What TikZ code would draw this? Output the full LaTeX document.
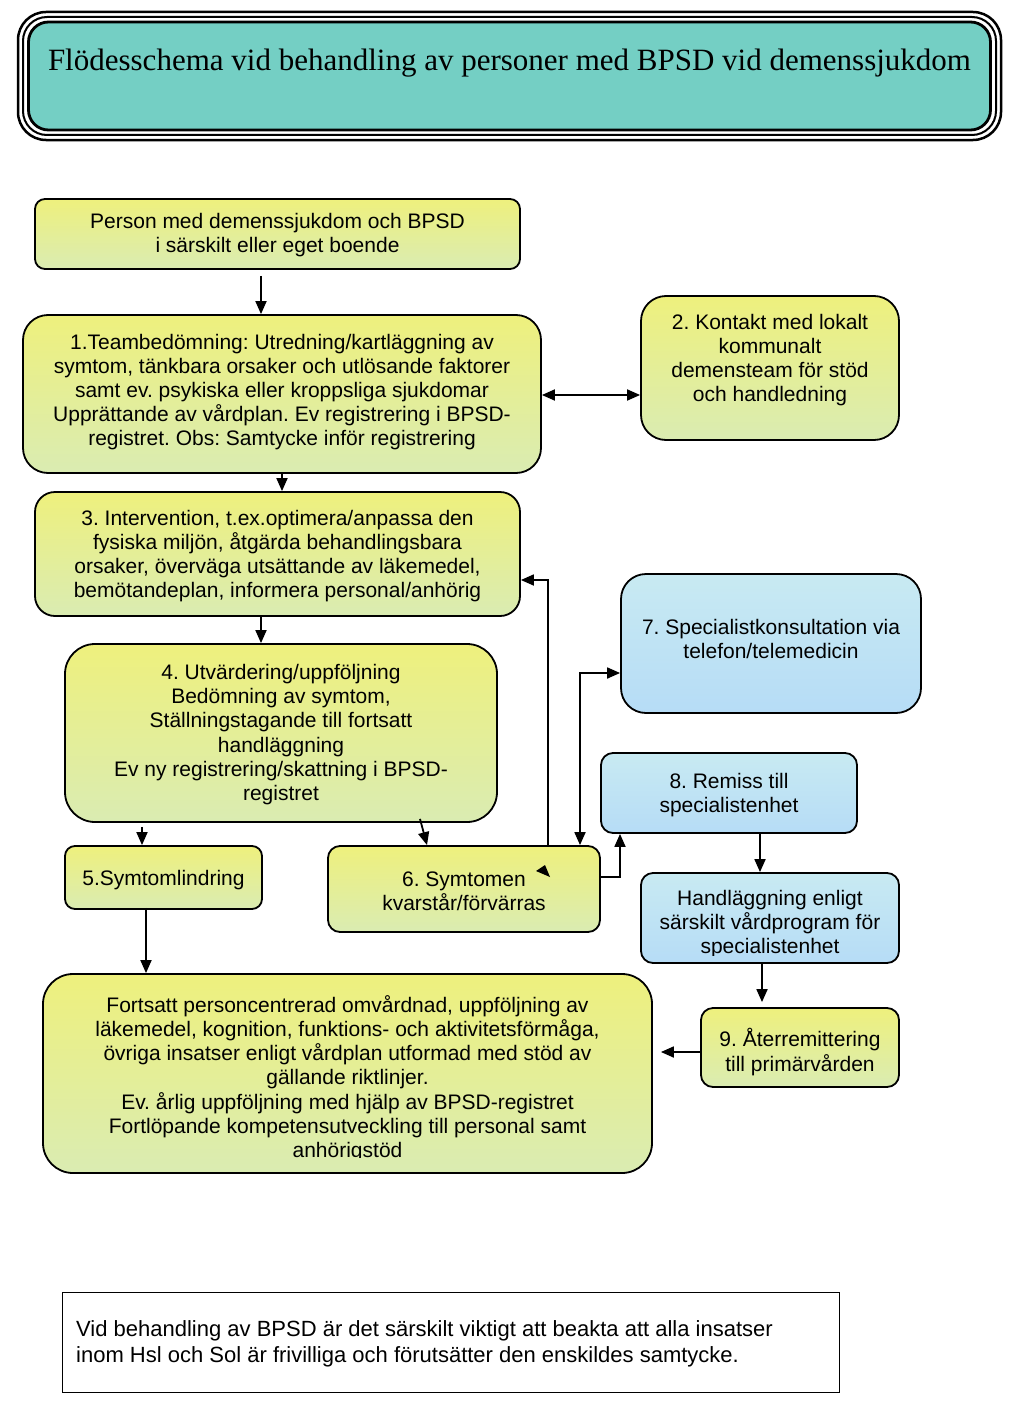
\documentclass[tikz,border=0pt]{standalone}
\usepackage{fontspec}
\setmainfont{Liberation Sans}
\newfontfamily\titlefont{Liberation Serif}
\usetikzlibrary{arrows.meta}
\definecolor{ytop}{RGB}{238,240,125}
\definecolor{ybot}{RGB}{218,236,178}
\definecolor{btop}{RGB}{200,234,242}
\definecolor{bbot}{RGB}{182,220,246}
\definecolor{teal}{RGB}{116,207,196}
\frenchspacing
\begin{document}
\begin{tikzpicture}[x=1pt,y=-1pt,
  ybox/.style={draw=black,line width=1.8pt,top color=ytop,bottom color=ybot,inner sep=0pt},
  bbox/.style={draw=black,line width=1.8pt,top color=btop,bottom color=bbot,inner sep=0pt},
  txt/.style={align=center,font=\fontsize{21}{24.2}\selectfont,inner sep=0pt},
  arr/.style={line width=1.8pt,-{Triangle[length=13pt,width=11pt]}},
  arrb/.style={line width=1.8pt,{Triangle[length=13pt,width=11pt]}-{Triangle[length=13pt,width=11pt]}},
]
\useasboundingbox (0,0) rectangle (1024,1410);
\fill[white] (0,0) rectangle (1024,1410);

% title
\draw[line width=2.5pt,rounded corners=28] (18,12) rectangle (1001,140);
\draw[line width=2pt,rounded corners=24] (23,17) rectangle (996,135);
\node[draw=black,line width=2.8pt,fill=teal,rounded corners=20,minimum width=962,minimum height=108,inner sep=0pt] (title) at (509.5,76) {};
\node[font=\titlefont\fontsize{31}{36}\selectfont,inner sep=0pt] (ttext) at (509.5,63) {Flödesschema vid behandling av personer med BPSD vid demenssjukdom};

% boxes
\node[ybox,rounded corners=10,minimum width=485,minimum height=70] (b0) at (277.5,234) {};
\node[txt] (t0) at (277.5,235) {Person med demenssjukdom och BPSD\\i särskilt eller eget boende};

\node[ybox,rounded corners=25,minimum width=518,minimum height=158] (b1) at (282,394) {};
\node[txt] (t1) at (282,392) {1.Teambedömning: Utredning/kartläggning av\\symtom, tänkbara orsaker och utlösande faktorer\\samt ev. psykiska eller kroppsliga sjukdomar\\Upprättande av vårdplan. Ev registrering i BPSD-\\registret. Obs: Samtycke inför registrering};

\node[ybox,rounded corners=25,minimum width=258,minimum height=144] (b2) at (770,368) {};
\node[txt] (t2) at (770,360) {2. Kontakt med lokalt\\kommunalt\\demensteam för stöd\\och handledning};

\node[ybox,rounded corners=20,minimum width=485,minimum height=124] (b3) at (277.5,554) {};
\node[txt] (t3) at (277.5,556) {3. Intervention, t.ex.optimera/anpassa den\\fysiska miljön, åtgärda behandlingsbara\\orsaker, överväga utsättande av läkemedel,\\bemötandeplan, informera personal/anhörig};

\node[ybox,rounded corners=30,minimum width=432,minimum height=178] (b4) at (281,733) {};
\node[txt] (t4) at (281,734.5) {4. Utvärdering/uppföljning\\Bedömning av symtom,\\Ställningstagande till fortsatt\\handläggning\\Ev ny registrering/skattning i BPSD-\\registret};

\node[ybox,rounded corners=10,minimum width=197,minimum height=63] (b5) at (163.5,877.5) {};
\node[txt] (t5) at (163.5,880) {5.Symtomlindring};

\node[ybox,rounded corners=12,minimum width=272,minimum height=86] (b6) at (464,889) {};
\node[txt] (t6) at (464,891) {6. Symtomen\\kvarstår/förvärras};

\node[bbox,rounded corners=25,minimum width=300,minimum height=139] (b7) at (771,643.5) {};
\node[txt] (t7) at (771,639) {7. Specialistkonsultation via\\telefon/telemedicin};

\node[bbox,rounded corners=12,minimum width=256,minimum height=80] (b8) at (729,793) {};
\node[txt] (t8) at (729,795) {8. Remiss till\\specialistenhet};

\node[bbox,rounded corners=12,minimum width=258,minimum height=90] (bh) at (770,918) {};
\begin{scope}
\clip (645,877) rectangle (895,955.5);
\node[txt] (th) at (770,924) {Handläggning enligt\\särskilt vårdprogram för\\specialistenhet};
\end{scope}

\node[ybox,rounded corners=12,minimum width=198,minimum height=79] (b9) at (800,1047.5) {};
\node[txt] (t9) at (800,1052) {9. Återremittering\\till primärvården};

\node[ybox,rounded corners=30,minimum width=609,minimum height=199] (b10) at (347.5,1073.5) {};
\begin{scope}
\clip (60,980) rectangle (640,1157.5);
\node[txt] (t10) at (347.5,1078.5) {Fortsatt personcentrerad omvårdnad, uppföljning av\\läkemedel, kognition, funktions- och aktivitetsförmåga,\\övriga insatser enligt vårdplan utformad med stöd av\\gällande riktlinjer.\\Ev. årlig uppföljning med hjälp av BPSD-registret\\Fortlöpande kompetensutveckling till personal samt\\anhörigstöd};
\end{scope}

\node[draw=black,line width=0.9pt,fill=white,minimum width=777,minimum height=100,inner sep=0pt] (note) at (450.5,1342) {};
\node[txt,align=left,anchor=west,font=\fontsize{22}{26}\selectfont] (tn) at (76,1344) {Vid behandling av BPSD är det särskilt viktigt att beakta att alla insatser\\inom Hsl och Sol är frivilliga och förutsätter den enskildes samtycke.};

% connectors
\draw[arr] ([xshift=-16.5pt,yshift=-6pt]b0.south) -- ([xshift=-21pt]b1.north);
\draw[arrb] ([yshift=-1pt]b1.east) -- ([yshift=-1pt]b1.east -| b2.west);
\draw[arr] (b1.south) -- (b1.south |- b3.north);
\draw[arr] ([xshift=-16.5pt]b3.south) -- ([xshift=-20pt]b4.north);
\draw[arr] ([xshift=-139pt,yshift=-4pt]b4.south) -- ([xshift=-21.5pt]b5.north);
\draw[arr] ([xshift=139pt,yshift=4pt]b4.south) -- ([xshift=-37pt]b6.north);
\draw[arr] ([xshift=84pt]b6.north) |- ([yshift=-26pt]b3.east);
\draw[arrb] ([xshift=116pt]b6.north) |- ([yshift=-29.5pt]b7.west);
\draw[arr] ([yshift=12pt]b6.east) -| ([xshift=-109pt]b8.south);
\draw[arr] ([xshift=31pt]b8.south) -- ([xshift=-10pt]bh.north);
\draw[arr] ([xshift=-8pt]bh.south) -- ([xshift=-38pt,yshift=5pt]b9.north);
\draw[arr] ([yshift=-4.5pt]b9.west) -- ([xshift=8pt,yshift=21.5pt]b10.east);
\draw[arr] ([xshift=-17.5pt,yshift=2pt]b5.south) -- ([xshift=-201.5pt]b10.north);
\fill (536,871) -- (545,865) -- (550,877) -- cycle;
\end{tikzpicture}
\end{document}
